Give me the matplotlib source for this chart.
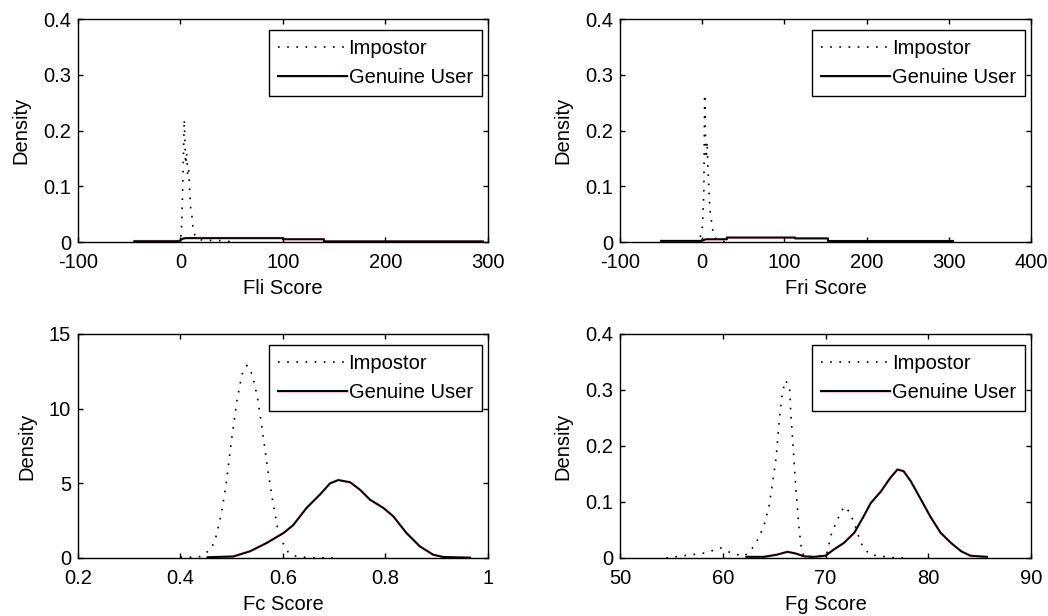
import matplotlib
matplotlib.use("Agg")
import matplotlib.pyplot as plt
from matplotlib.ticker import FuncFormatter

plt.rcParams['font.family'] = ['Liberation Sans', 'DejaVu Sans']
plt.rcParams['font.size'] = 14.5

# Fli score densities
fli_imp_x = [-5, 0, 1.2, 2.5, 3.7, 5, 6, 7, 8, 9, 10, 11, 12.5, 15, 20, 28, 36, 45, 50]
fli_imp_y = [0, 0.003, 0.03, 0.12, 0.22, 0.14, 0.16, 0.12, 0.13, 0.09, 0.06, 0.05, 0.02, 0.008, 0.004, 0.003, 0.003, 0.002, 0]
fli_gen_x = [-45, -2, 0, 2, 5, 100, 100, 140, 140, 295]
fli_gen_y = [0.0015, 0.0015, 0.003, 0.006, 0.007, 0.007, 0.005, 0.005, 0.0012, 0.0012]

# Fri score densities
fri_imp_x = [-10, -4, 0, 2, 3, 4, 5, 6, 7, 8, 9, 10, 12, 14, 17, 22, 30]
fri_imp_y = [0, 0.002, 0.02, 0.09, 0.265, 0.19, 0.15, 0.18, 0.13, 0.1, 0.07, 0.05, 0.03, 0.01, 0.005, 0.002, 0]
fri_gen_x = [-50, -2, 0, 5, 15, 30, 30, 113, 113, 153, 153, 305]
fri_gen_y = [0.002, 0.002, 0.003, 0.005, 0.005, 0.005, 0.008, 0.008, 0.0065, 0.0065, 0.0018, 0.0018]

# Fc score densities
fc_imp_x = [0.40, 0.42, 0.44, 0.46, 0.47, 0.48, 0.49, 0.50, 0.51, 0.52, 0.53, 0.54, 0.55,
            0.56, 0.57, 0.58, 0.59, 0.60, 0.61, 0.62, 0.64, 0.66, 0.68, 0.70]
fc_imp_y = [0.05, 0.05, 0.1, 0.6, 1.5, 3.0, 5.2, 8.0, 10.5, 12.3, 12.9, 12.3, 10.8,
            8.5, 6.0, 3.8, 1.9, 1.0, 0.4, 0.15, 0.05, 0.02, 0.01, 0.0]
fc_gen_x = [0.453, 0.503, 0.536, 0.568, 0.601, 0.620, 0.646, 0.672, 0.692, 0.708, 0.731,
            0.750, 0.770, 0.796, 0.815, 0.841, 0.867, 0.893, 0.912, 0.965]
fc_gen_y = [0.05, 0.1, 0.45, 1.0, 1.67, 2.2, 3.35, 4.24, 5.0, 5.22, 5.07,
            4.58, 3.9, 3.35, 2.8, 1.67, 0.78, 0.22, 0.07, 0.02]

# Fg score densities
fg_imp_x = [54.5, 58.3, 59.8, 60.8, 62.1, 63.0, 63.5, 64.0, 64.5, 64.8, 65.2, 65.5, 65.8,
            66.1, 66.5, 66.6, 66.8, 67.1, 67.4, 67.7, 68.2, 70.1, 70.6, 71.3, 71.8, 72.3,
            72.8, 73.1, 73.6, 74.3, 76.3, 77.6]
fg_imp_y = [0.0, 0.009, 0.018, 0.009, 0.003, 0.02, 0.036, 0.057, 0.092, 0.128, 0.18, 0.247, 0.295,
            0.317, 0.307, 0.265, 0.211, 0.128, 0.057, 0.009, 0.0, 0.006, 0.045, 0.074, 0.092, 0.083,
            0.0625, 0.045, 0.021, 0.006, 0.001, 0.0]
fg_gen_x = [62.3, 64.0, 65.3, 66.3, 67.1, 67.9, 68.9, 70.0, 70.8, 71.8, 72.8, 73.7, 74.4,
            75.4, 76.3, 77.0, 77.6, 78.3, 79.3, 80.2, 81.2, 82.2, 83.2, 84.1, 85.7]
fg_gen_y = [0.002, 0.002, 0.006, 0.011, 0.008, 0.003, 0.002, 0.004, 0.015, 0.027, 0.045, 0.074, 0.098,
            0.119, 0.143, 0.158, 0.155, 0.137, 0.104, 0.074, 0.045, 0.027, 0.012, 0.004, 0.002]

panels = [
    dict(imp=(fli_imp_x, fli_imp_y), gen=(fli_gen_x, fli_gen_y), xlim=(-100, 300),
         xticks=[-100, 0, 100, 200, 300], ylim=(0, 0.4), yticks=[0, 0.1, 0.2, 0.3, 0.4],
         xlabel='Fli Score', pos=[0.0744, 0.6071, 0.3912, 0.3620]),
    dict(imp=(fri_imp_x, fri_imp_y), gen=(fri_gen_x, fri_gen_y), xlim=(-100, 400),
         xticks=[-100, 0, 100, 200, 300, 400], ylim=(0, 0.4), yticks=[0, 0.1, 0.2, 0.3, 0.4],
         xlabel='Fri Score', pos=[0.5916, 0.6071, 0.3922, 0.3620]),
    dict(imp=(fc_imp_x, fc_imp_y), gen=(fc_gen_x, fc_gen_y), xlim=(0.2, 1),
         xticks=[0.2, 0.4, 0.6, 0.8, 1], ylim=(0, 15), yticks=[0, 5, 10, 15],
         xlabel='Fc Score', pos=[0.0744, 0.0942, 0.3912, 0.3636]),
    dict(imp=(fg_imp_x, fg_imp_y), gen=(fg_gen_x, fg_gen_y), xlim=(50, 90),
         xticks=[50, 60, 70, 80, 90], ylim=(0, 0.4), yticks=[0, 0.1, 0.2, 0.3, 0.4],
         xlabel='Fg Score', pos=[0.5916, 0.0942, 0.3922, 0.3636]),
]

fig = plt.figure(figsize=(10.48, 6.16), dpi=100)
fmt = FuncFormatter(lambda v, p: f"{v:g}")

for p in panels:
    ax = fig.add_axes(p['pos'])
    imp, = ax.plot(p['imp'][0], p['imp'][1], color='black', lw=1.2,
                   linestyle=(0, (1, 4.5)), label='Impostor')
    red, = ax.plot(p['gen'][0], p['gen'][1], color='#e0306a', lw=1.9, alpha=0.35)
    gen, = ax.plot(p['gen'][0], p['gen'][1], color='black', lw=1.4)
    ax.set_xlim(*p['xlim'])
    ax.set_ylim(*p['ylim'])
    ax.set_xticks(p['xticks'])
    ax.set_yticks(p['yticks'])
    ax.xaxis.set_major_formatter(fmt)
    ax.yaxis.set_major_formatter(fmt)
    ax.tick_params(direction='in', length=3.5, width=1, top=True, right=True)
    ax.tick_params(axis='x', pad=8)
    ax.tick_params(axis='y', pad=5)
    for s in ax.spines.values():
        s.set_linewidth(1)
    ax.set_xlabel(p['xlabel'], labelpad=5)
    ax.set_ylabel('Density', labelpad=9)
    leg = ax.legend([imp, (red, gen)], ['Impostor', 'Genuine User'], loc='upper right',
                    bbox_to_anchor=(0.985, 0.952), borderaxespad=0, fancybox=False,
                    framealpha=1, edgecolor='black', handlelength=3.4, handletextpad=0.1,
                    labelspacing=0.5, borderpad=0.45)
    leg.get_frame().set_linewidth(1)

fig.savefig('out.png', dpi=100)
